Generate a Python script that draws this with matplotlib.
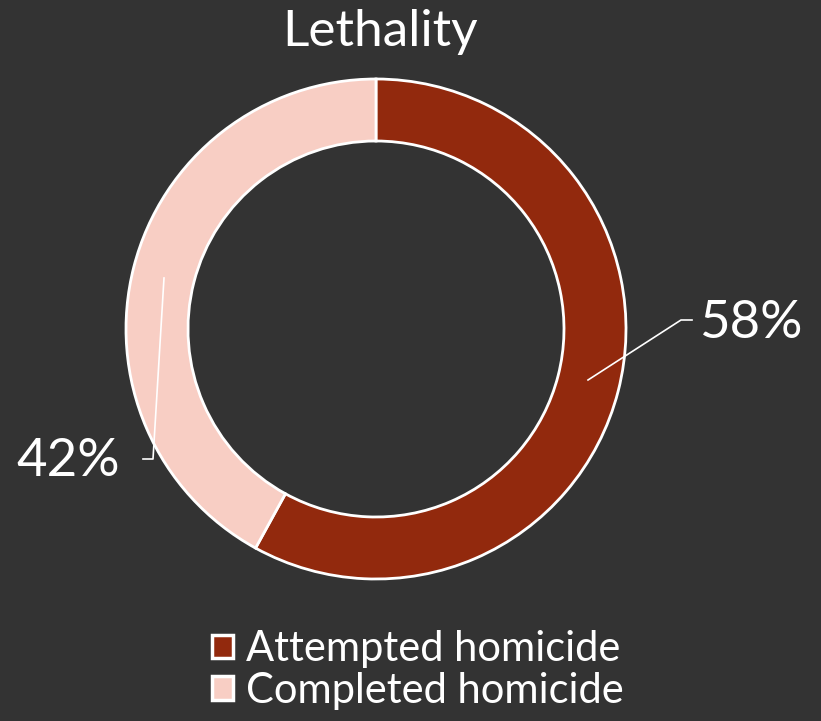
import matplotlib.pyplot as plt
import matplotlib.patches as mpatches

# Data
categories = ["Attempted homicide", "Completed homicide"]
shares = [58, 42]
pct_labels = ["58%", "42%"]

BG = "#333333"
COLOURS = ["#92290d", "#f8cec4"]
TEXT_CLR = "white"
FONT = ["Lato", "DejaVu Sans"]

W, H = 821, 721
fig = plt.figure(figsize=(W / 100, H / 100), dpi=100)
fig.patch.set_facecolor(BG)
ax = fig.add_axes([0, 0, 1, 1])
ax.set_facecolor(BG)

cx, cy, r = 376, H - 329, 250
wedges, _ = ax.pie(
    shares,
    colors=COLOURS,
    startangle=90,
    counterclock=False,
    center=(cx, cy),
    radius=r,
    frame=True,
    wedgeprops=dict(width=62, edgecolor="white", linewidth=2),
)
ax.set_xlim(0, W)
ax.set_ylim(0, H)
ax.set_aspect("equal")
ax.axis("off")

# leader lines + percentage labels
ax.plot([588, 681, 692], [H - 380, H - 320, H - 320], color="white", lw=1.2)
ax.text(751, H - 324, pct_labels[0], color=TEXT_CLR, fontsize=38,
        family=FONT, ha="center", va="center")
ax.plot([164, 153, 143], [H - 278, H - 459, H - 459], color="white", lw=1.2)
ax.text(68, H - 462, pct_labels[1], color=TEXT_CLR, fontsize=38,
        family=FONT, ha="center", va="center")

ax.text(380, H - 32, "Lethality", color=TEXT_CLR, fontsize=37,
        family=FONT, ha="center", va="center")

handles = [mpatches.Patch(facecolor=c, edgecolor="white", linewidth=2.5, label=l)
           for c, l in zip(COLOURS, categories)]
leg = fig.legend(handles=handles, loc="center", bbox_to_anchor=(418 / W, 1 - 670 / H),
                 frameon=False, prop=dict(family=FONT, size=30),
                 labelcolor=TEXT_CLR, handlelength=0.5, handleheight=0.5,
                 handletextpad=0.3, labelspacing=0.08)

fig.savefig("out.png", dpi=100, facecolor=BG)
